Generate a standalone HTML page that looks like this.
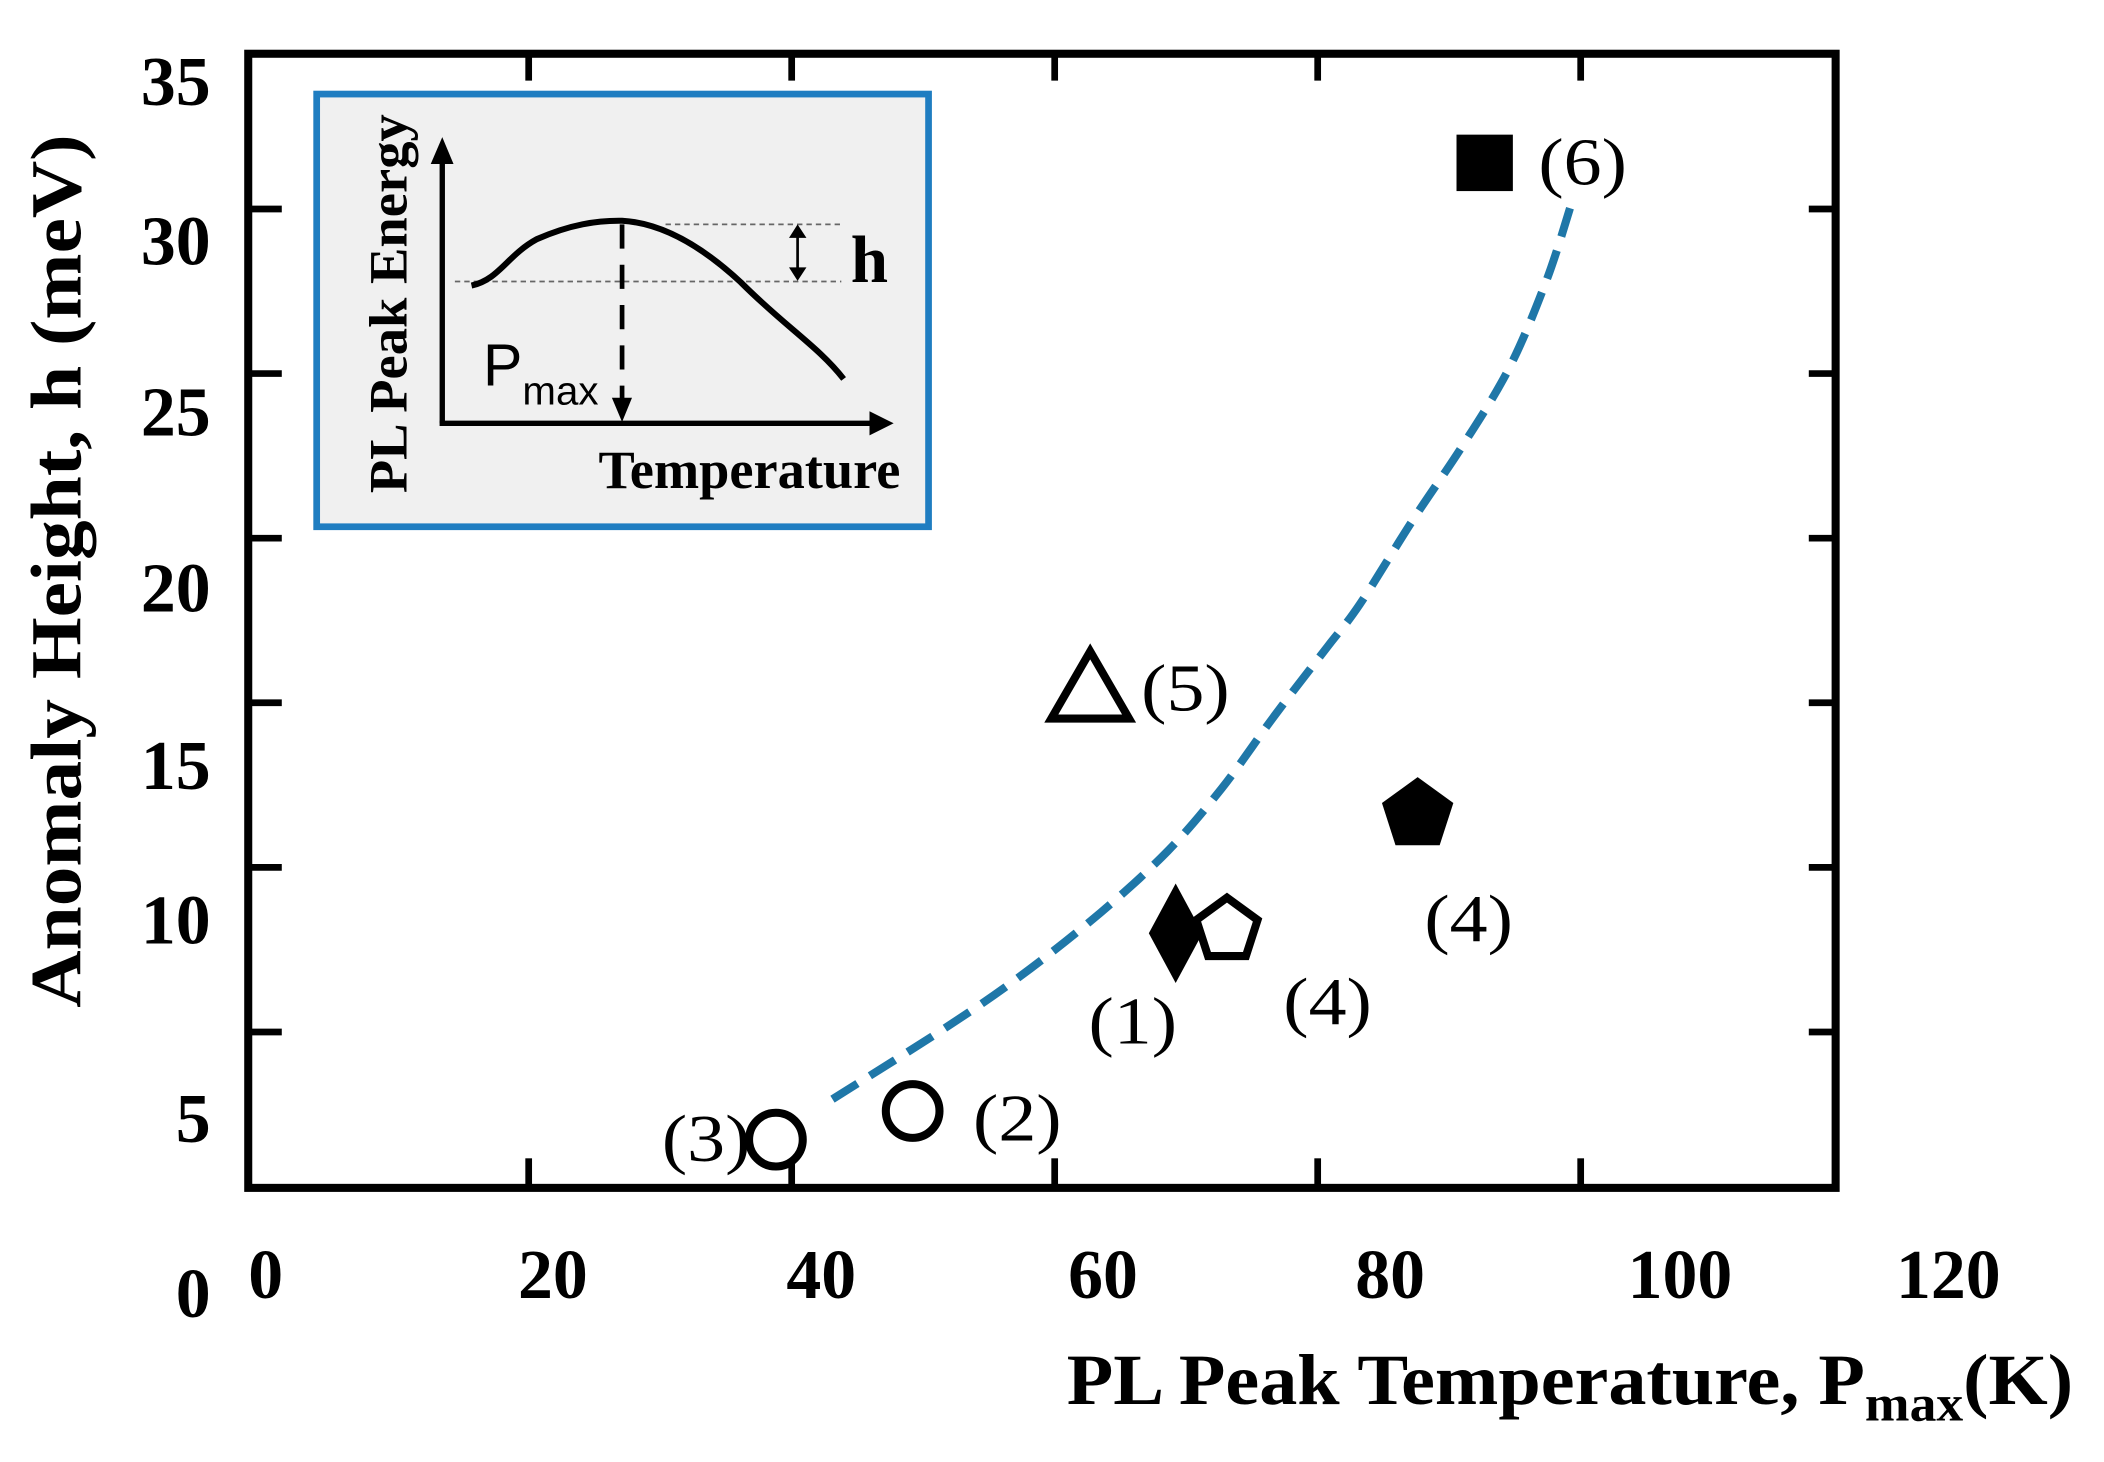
<!DOCTYPE html>
<html><head><meta charset="utf-8"><style>
html,body{margin:0;padding:0;background:#fff;}
svg{display:block;}
text{font-family:"Liberation Serif",serif;}
</style></head><body>
<svg id="chart" width="2104" height="1462" viewBox="0 0 1568 1088" preserveAspectRatio="none" xmlns="http://www.w3.org/2000/svg">
<rect x="0" y="0" width="1568" height="1088" fill="#fff"/>
<g id="frame"></g>
<g id="curve"></g>
<g id="marks"></g>
<g id="labels"></g>
<g id="axes"></g>
<g id="inset">
  <rect x="236" y="70" width="456" height="322" fill="#f0f0f0" stroke="#1f7dc1" stroke-width="5"/>
  <line x1="329.6" y1="315" x2="329.6" y2="118" stroke="#000" stroke-width="4"/>
  <polygon points="321,122 338,122 329.6,102" fill="#000"/>
  <line x1="327.6" y1="315" x2="652" y2="315" stroke="#000" stroke-width="4"/>
  <polygon points="648,306 648,324 666,315" fill="#000"/>
  <line x1="496" y1="167" x2="627" y2="167" stroke="#666" stroke-width="1.3" stroke-dasharray="4,3"/>
  <line x1="339" y1="209.5" x2="627" y2="209.5" stroke="#666" stroke-width="1.3" stroke-dasharray="4,3"/>
  <path d="M351.4,212.5 C372,208 378,190 400,178 C425,167 445,164 463.6,164.3 C495,166 525,185 552,210 C585,243 610,258 628.7,282" fill="none" stroke="#000" stroke-width="4.5"/>
  <line x1="463.6" y1="167" x2="463.6" y2="300" stroke="#000" stroke-width="3.5" stroke-dasharray="18,12"/>
  <polygon points="456,296 471,296 463.6,314" fill="#000"/>
  <line x1="594.4" y1="174" x2="594.4" y2="202" stroke="#000" stroke-width="2"/>
  <polygon points="588,177 601,177 594.4,167" fill="#000"/>
  <polygon points="588,199 601,199 594.4,209" fill="#000"/>
  <text x="634" y="210" font-size="50" font-weight="bold">h</text>
  <text x="360" y="287" font-size="44" style="font-family:'Liberation Sans',sans-serif">P<tspan font-size="30" dy="14">max</tspan></text>
  <text x="446" y="363" font-size="40" font-weight="bold" textLength="225" lengthAdjust="spacingAndGlyphs">Temperature</text>
  <text x="0" y="0" font-size="40" font-weight="bold" text-anchor="middle" textLength="282" lengthAdjust="spacingAndGlyphs" transform="translate(303,226) rotate(-90)">PL Peak Energy</text>
</g>
</svg>
<script>
// data
const xValues = [38.8, 49.2, 69.2, 73.1, 87.6, 62.7, 92.7];
const yValues = [1.73, 2.6, 8.0, 8.1, 11.6, 15.5, 31.4];
const shapes = ['circle','circle','diamond','pentagon-open','pentagon-filled','triangle','square'];
const pointLabels = ['(3)','(2)','(1)','(4)','(4)','(5)','(6)'];
const curveX = [43.1, 51.2, 57.3, 63.5, 68.6, 72.7, 76.7, 80.7, 83.2, 87.2, 91.1, 94.6, 97.4, 99.3];
const curveY = [2.96, 5.0, 6.67, 8.63, 10.5, 12.4, 14.6, 16.68, 17.99, 20.53, 22.86, 25.2, 27.83, 30.16];
const xTickLabels = ['0','20','40','60','80','100','120'];
const yTickLabels = ['0','5','10','15','20','25','30','35'];
const xTickValues = [20, 40, 60, 80, 100];
const yTickValues = [5, 10, 15, 20, 25, 30];

const NS = 'http://www.w3.org/2000/svg';
const X = v => 198 + v * 9.8;
const Y = v => 890.5 - v * 24.5;
function mk(tag, attrs, parent){const e=document.createElementNS(NS,tag);for(const k in attrs)e.setAttribute(k,attrs[k]);parent.appendChild(e);return e;}

const frame = document.getElementById('frame');
const fr = mk('rect',{x:185,y:40,width:1183,height:844,fill:'none',stroke:'#000','stroke-width':6},frame);


xTickValues.forEach(v=>{
  const t1=mk('line',{x1:X(v),y1:884,x2:X(v),y2:862,stroke:'#000','stroke-width':5},frame);
  
  
  const t2=mk('line',{x1:X(v),y1:40,x2:X(v),y2:60,stroke:'#000','stroke-width':5},frame);
  
  
});
yTickValues.forEach(v=>{
  const t1=mk('line',{x1:185,y1:Y(v),x2:210,y2:Y(v),stroke:'#000','stroke-width':5},frame);
  
  
  const t2=mk('line',{x1:1368,y1:Y(v),x2:1348,y2:Y(v),stroke:'#000','stroke-width':5},frame);
  
  
});

// curve (smooth Catmull-Rom through data points)
const cg=document.getElementById('curve');
const P=curveX.map((v,i)=>[X(v),Y(curveY[i])]);
let d='M'+P[0][0].toFixed(1)+','+P[0][1].toFixed(1);
for(let i=0;i<P.length-1;i++){
  const p0=P[Math.max(0,i-1)],p1=P[i],p2=P[i+1],p3=P[Math.min(P.length-1,i+2)];
  const c1=[p1[0]+(p2[0]-p0[0])/6,p1[1]+(p2[1]-p0[1])/6];
  const c2=[p2[0]-(p3[0]-p1[0])/6,p2[1]-(p3[1]-p1[1])/6];
  d+=' C'+c1[0].toFixed(1)+','+c1[1].toFixed(1)+' '+c2[0].toFixed(1)+','+c2[1].toFixed(1)+' '+p2[0].toFixed(1)+','+p2[1].toFixed(1);
}
const cp=mk('path',{d:d,fill:'none',stroke:'#1f77a8','stroke-width':6,'stroke-dasharray':'22,11'},cg);



// markers
const mg=document.getElementById('marks');
function poly(cx,cy,r,n,rot){let p=[];for(let i=0;i<n;i++){const a=rot+i*2*Math.PI/n;p.push((cx+r*Math.cos(a)).toFixed(1)+','+(cy+r*Math.sin(a)).toFixed(1));}return p.join(' ');}
xValues.forEach((v,i)=>{
  const cx=X(v), cy=Y(yValues[i]); let e;
  const s=shapes[i];
  if(s==='circle') e=mk('circle',{cx:cx,cy:cy,r:20,fill:'#fff',stroke:'#000','stroke-width':6},mg);
  else if(s==='diamond') e=mk('polygon',{points:`${cx},${cy-37} ${cx+20},${cy} ${cx},${cy+37} ${cx-20},${cy}`,fill:'#000'},mg);
  else if(s==='pentagon-open') e=mk('polygon',{points:poly(cx,cy,24,5,-Math.PI/2),fill:'#fff',stroke:'#000','stroke-width':6},mg);
  else if(s==='pentagon-filled') e=mk('polygon',{points:poly(cx,cy,28,5,-Math.PI/2),fill:'#000'},mg);
  else if(s==='triangle') e=mk('polygon',{points:`${cx},${cy-26} ${cx+29},${cy+24} ${cx-29},${cy+24}`,fill:'#fff',stroke:'#000','stroke-width':6,'stroke-linejoin':'miter'},mg);
  else e=mk('rect',{x:cx-21,y:cy-21,width:42,height:42,fill:'#000'},mg);
  
  
});

// point labels
const lg=document.getElementById('labels');
const lOff=[[-85,16],[45,22],[-65,82],[42,70],[5,94],[38,18],[40,16]];
pointLabels.forEach((t,i)=>{
  const e=mk('text',{x:X(xValues[i])+lOff[i][0],y:Y(yValues[i])+lOff[i][1],'font-size':50,textLength:'66',lengthAdjust:'spacingAndGlyphs'},lg);
  e.textContent=t;
  
  
});

// axis tick labels (positioned as in reference)
const ag=document.getElementById('axes');
const xlPos=[198,412,612,822,1036,1252,1452];
xTickLabels.forEach((t,i)=>{
  const e=mk('text',{x:xlPos[i],y:966,'font-size':52,'font-weight':'bold','text-anchor':'middle'},ag);
  e.textContent=t;
  
  
});
const ylPos=[980,850,702,587,455,324,197,78];
yTickLabels.forEach((t,i)=>{
  const e=mk('text',{x:157,y:ylPos[i],'font-size':52,'font-weight':'bold','text-anchor':'end'},ag);
  e.textContent=t;
  
  
});
const yt=mk('text',{x:0,y:0,'font-size':54,'font-weight':'bold','text-anchor':'middle',textLength:'650',lengthAdjust:'spacingAndGlyphs',transform:'translate(60,425) rotate(-90)'},ag);
yt.textContent='Anomaly Height, h (meV)';


const xt=mk('text',{x:795,y:1045,'font-size':54,'font-weight':'bold',textLength:'750',lengthAdjust:'spacingAndGlyphs'},ag);
xt.innerHTML='PL Peak Temperature, P<tspan font-size="38" dy="12">max</tspan><tspan dy="-12">(K)</tspan>';


</script>
</body></html>
